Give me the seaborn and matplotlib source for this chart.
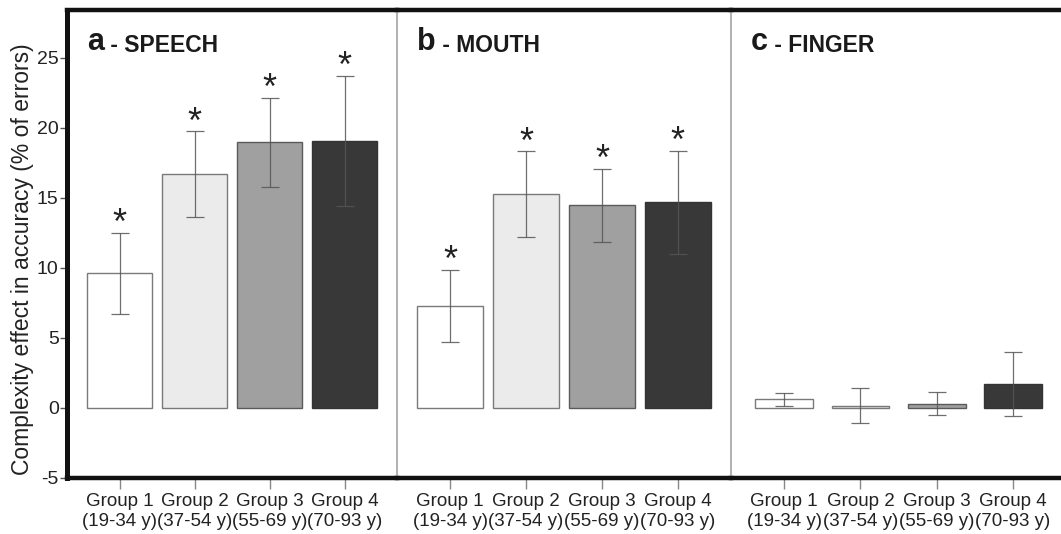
import matplotlib
matplotlib.use("Agg")
import matplotlib.pyplot as plt
import seaborn as sns
import pandas as pd

sns.set_theme(style="white")
plt.rcParams['font.family'] = ['Liberation Sans', 'DejaVu Sans']
plt.rcParams['axes.unicode_minus'] = False

groups = ["Group 1\n(19-34 y)", "Group 2\n(37-54 y)", "Group 3\n(55-69 y)", "Group 4\n(70-93 y)"]
panel_letters = ["a", "b", "c"]
panel_names = ["- SPEECH", "- MOUTH", "- FINGER"]

speech_mean = [9.6, 16.7, 18.95, 19.05]
speech_err = [2.9, 3.05, 3.2, 4.65]
mouth_mean = [7.3, 15.25, 14.45, 14.67]
mouth_err = [2.56, 3.07, 2.62, 3.7]
finger_mean = [0.62, 0.17, 0.3, 1.72]
finger_err = [0.46, 1.24, 0.82, 2.3]
significant = [[True] * 4, [True] * 4, [False] * 4]

means = [speech_mean, mouth_mean, finger_mean]
errs = [speech_err, mouth_err, finger_err]

fill_colors = ["#ffffff", "#ebebeb", "#a0a0a0", "#383838"]
edge_colors = ["#7a7a7a", "#7a7a7a", "#5a5a5a", "#333333"]
bar_widths = [0.86, 0.86, 0.76]

W, H = 1061, 534
fig = plt.figure(figsize=(W / 100, H / 100), dpi=100)
bounds = [67, 397, 731, 1066]
top_px, bot_px = 10, 478

axes = []
for i in range(3):
    ax = fig.add_axes([bounds[i] / W, 1 - bot_px / H,
                       (bounds[i + 1] - bounds[i]) / W, (bot_px - top_px) / H])
    axes.append(ax)
    df = pd.DataFrame({"group": groups, "value": means[i]})
    sns.barplot(data=df, x="group", y="value", hue="group", palette=fill_colors,
                ax=ax, legend=False, width=bar_widths[i], errorbar=None,
                linewidth=1.0)
    for p, ec in zip(ax.patches, edge_colors):
        p.set_edgecolor(ec)
    ax.errorbar(range(4), means[i], yerr=errs[i], fmt="none", ecolor="#555555",
                elinewidth=0.9, capsize=6.7, capthick=0.9, alpha=0.85)
    for j in range(4):
        if significant[i][j]:
            ax.text(j, means[i][j] + errs[i][j] - 0.1, "*", ha="center",
                    va="baseline", fontsize=26, color="#222222")
    ax.set_xlim(-0.7, 3.7)
    ax.set_ylim(-5, 28.4)
    ax.set_xlabel("")
    ax.set_ylabel("")
    ax.set_yticks([-5, 0, 5, 10, 15, 20, 25])
    ax.tick_params(axis="x", bottom=True, length=8, width=1.0, color="#888888",
                   labelsize=13.5, labelcolor="#222222", pad=3)
    ax.set_xticks(range(4))
    ax.set_xticklabels(groups, linespacing=1.2)
    for s in ["top", "bottom"]:
        ax.spines[s].set_linewidth(3.2)
        ax.spines[s].set_color("#111111")
    ax.spines["right"].set_visible(False)
    if i == 0:
        ax.spines["left"].set_linewidth(3.6)
        ax.spines["left"].set_color("#111111")
        ax.tick_params(axis="y", left=True, length=5, width=1.0, color="#555555",
                       labelsize=14, labelcolor="#222222", pad=1)
        ax.set_ylabel("Complexity effect in accuracy (% of errors)", fontsize=16.5,
                      color="#222222", va="center")
        ax.yaxis.set_label_coords(-0.136, 0.468)
    else:
        ax.spines["left"].set_linewidth(1.3)
        ax.spines["left"].set_color("#aaaaaa")
        ax.tick_params(axis="y", left=False, labelleft=False)
    ax.patch.set_alpha(0)
    t = ax.text(20 / (bounds[i + 1] - bounds[i]), 1 - 40 / (bot_px - top_px),
                panel_letters[i], transform=ax.transAxes, fontsize=22,
                fontweight="bold", color="#1a1a1a", va="baseline", ha="left")
    ax.annotate(" " + panel_names[i], xy=(1, 0), xycoords=t, fontsize=16.5,
                fontweight="bold", color="#1a1a1a", va="bottom", ha="left")

fig.savefig("out.png", dpi=100)
